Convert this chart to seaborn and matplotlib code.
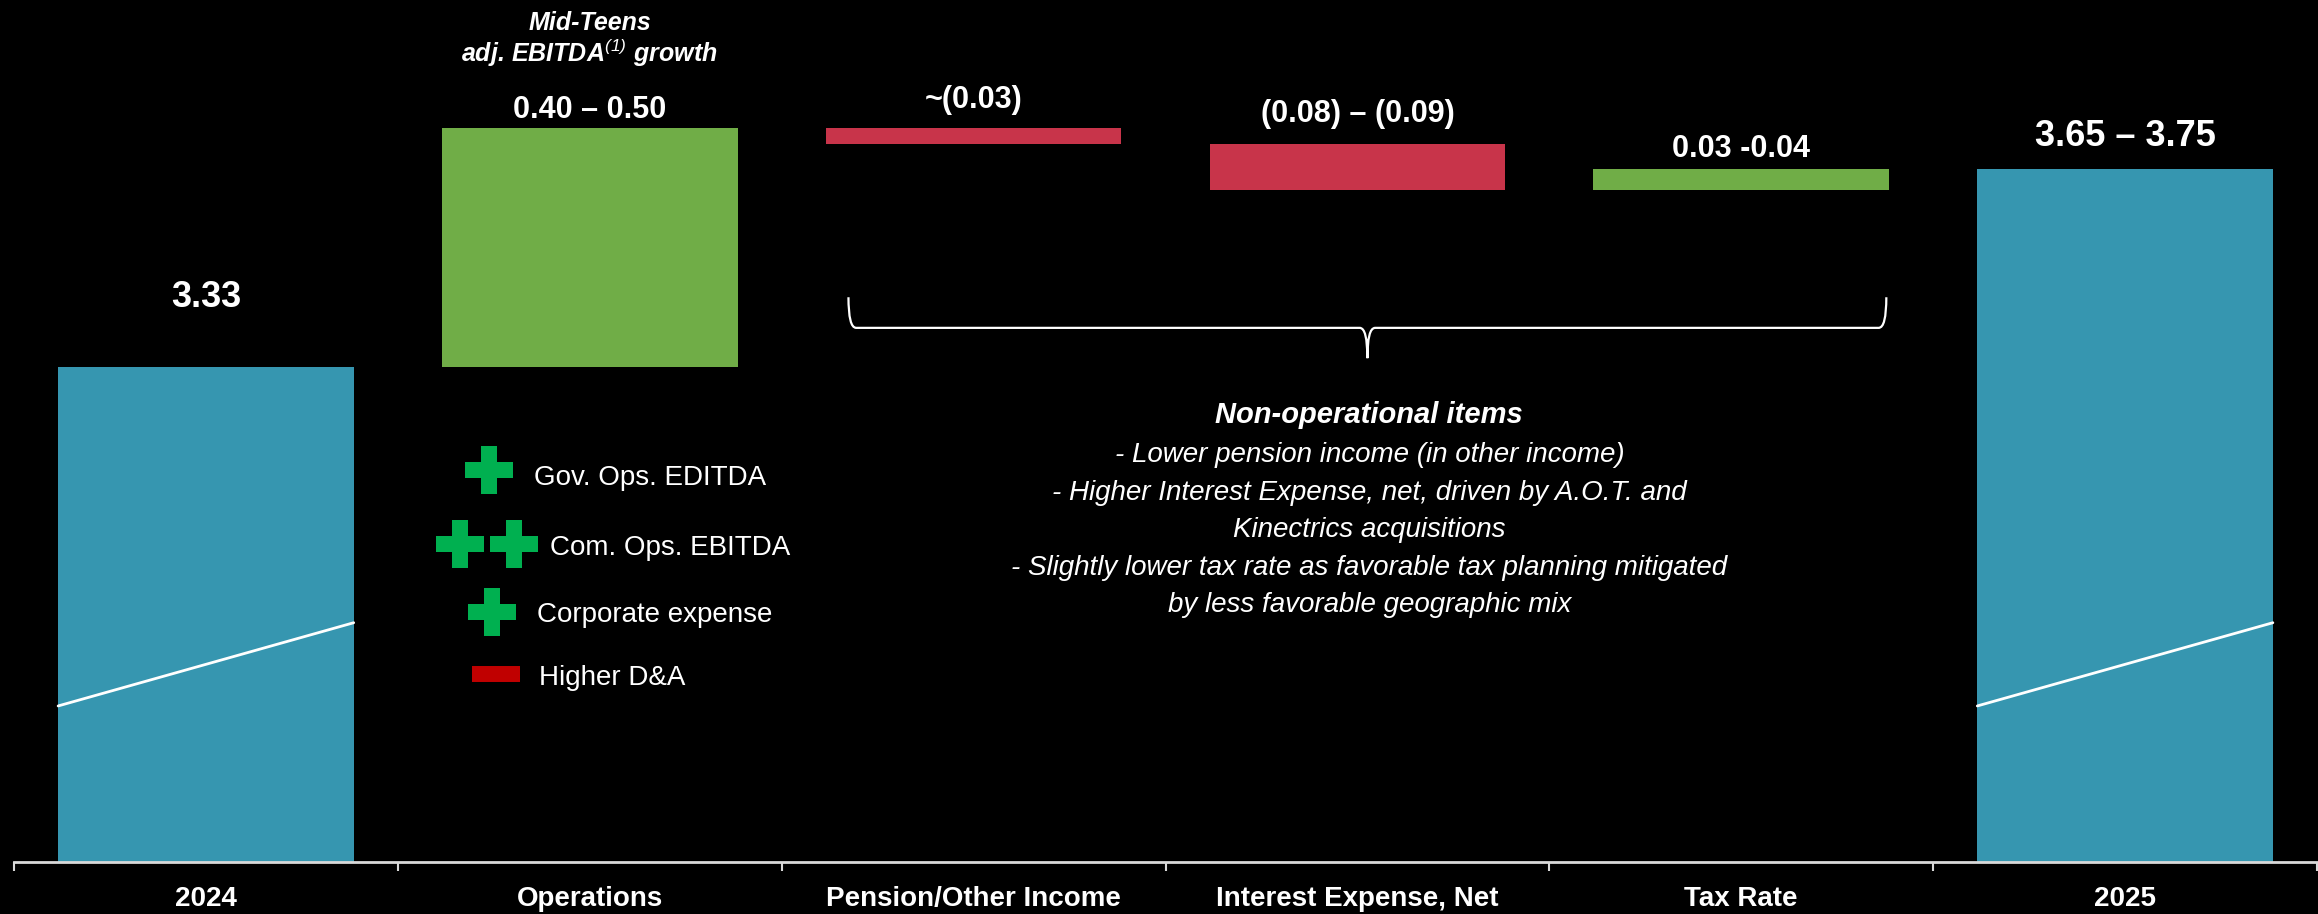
import numpy as np
import pandas as pd
import matplotlib
matplotlib.use("Agg")
import matplotlib.pyplot as plt
from matplotlib.path import Path
from matplotlib.patches import PathPatch
import seaborn as sns

# ── Data ─────────────────────────────────────
categories = ["2024", "Operations", "Pension/Other Income",
              "Interest Expense, Net", "Tax Rate", "2025"]
value_labels = ["3.33", "0.40 \u2013 0.50", "~(0.03)",
                "(0.08) \u2013 (0.09)", "0.03 -0.04", "3.65 \u2013 3.75"]
start_total = 3.33
# the bridge is not drawn to scale: step heights as drawn on the slide
drawn_steps = [1.61, -0.11, -0.31, 0.14]
break_marks = [1.05, 1.61]   # white slash across the two total bars

legend_items = ["Gov. Ops. EDITDA", "Com. Ops. EBITDA",
                "Corporate expense", "Higher D&A"]
note_title = "Non-operational items"
note_lines = ["- Lower pension income (in other income)",
              "- Higher Interest Expense, net, driven by A.O.T. and",
              "Kinectrics acquisitions",
              "- Slightly lower tax rate as favorable tax planning mitigated",
              "by less favorable geographic mix"]

# ── Styling ──────────────────────────────────
TEAL = "#3696b0"
GREEN = "#70ad47"
RED = "#c8344a"
PLUS_GREEN = "#00b050"
DA_RED = "#c00000"
AXIS_GREY = "#d9d9d9"

sns.set_theme(style="dark", rc={"axes.facecolor": "black",
                                "figure.facecolor": "black",
                                "savefig.facecolor": "black"})
plt.rcParams["font.family"] = ["Liberation Sans", "DejaVu Sans"]
plt.rcParams["mathtext.fontset"] = "custom"
plt.rcParams["mathtext.rm"] = "Liberation Sans:italic"
plt.rcParams["mathtext.it"] = "Liberation Sans:italic"

# ── Waterfall geometry from the data ─────────
levels = np.concatenate([[start_total], start_total + np.cumsum(drawn_steps)])
bases = [0.0] + [min(levels[i], levels[i + 1]) for i in range(len(drawn_steps))] + [0.0]
heights = [start_total] + [abs(s) for s in drawn_steps] + [levels[-1]]
bar_colors = [TEAL] + [GREEN if s > 0 else RED for s in drawn_steps] + [TEAL]
df = pd.DataFrame({"category": categories, "base": bases, "height": heights})

fig = plt.figure(figsize=(23.18, 9.14), dpi=100)
ax = fig.add_axes([14 / 2318, 52 / 914, 2303 / 2318, 862 / 914])

sns.barplot(data=df, x="category", y="height", order=categories,
            bottom=df["base"].values, color=TEAL, saturation=1,
            width=0.77, errorbar=None, linewidth=0, ax=ax)
for patch, c in zip(ax.patches, bar_colors):
    patch.set_facecolor(c)
    patch.set_edgecolor(c)

ax.set_xlim(-0.5, len(categories) - 0.5)
ax.set_ylim(0, 5.80)

# white break slash on the total bars
half = 0.77 / 2
for i in (0, len(categories) - 1):
    ax.plot([i - half, i + half], break_marks, color="white", lw=2, zorder=3)

# value labels above the bars (gap in points)
label_gap = [43, 7, 14, 16, 9, 17]
label_size = [26, 22, 22, 22, 22, 26]
tops = np.array(bases) + np.array(heights)
for i, (lab, top) in enumerate(zip(value_labels, tops)):
    ax.annotate(lab, (i, top), xytext=(0, label_gap[i]), textcoords="offset points",
                ha="center", va="baseline", color="white",
                fontsize=label_size[i], fontweight="bold")

ax.text(1.0, 5.60, "Mid-Teens", ha="center", va="baseline", color="white",
        fontsize=18, fontweight="bold", style="italic")
ax.text(1.0, 5.38, r"adj. EBITDA$^{(1)}$ growth", ha="center", va="baseline",
        color="white", fontsize=18, fontweight="bold", style="italic")

# ── Axis: ticks at boundaries, labels at centres ──
ax.set_xticks(np.arange(-0.5, len(categories)), labels=[""] * (len(categories) + 1))
ax.set_xticks(np.arange(len(categories)), labels=categories, minor=True)
ax.tick_params(axis="x", which="major", direction="out", length=6.5, width=1.5,
               color=AXIS_GREY, bottom=True)
ax.tick_params(axis="x", which="minor", length=0, pad=17, labelsize=20,
               labelcolor="white")
for t in ax.get_xticklabels(minor=True):
    t.set_fontweight("bold")
ax.set_yticks([])
ax.set_xlabel("")
ax.set_ylabel("")
ax.grid(False)
for side in ["left", "right", "top"]:
    ax.spines[side].set_visible(False)
ax.spines["bottom"].set_color(AXIS_GREY)
ax.spines["bottom"].set_linewidth(2)

# ── Operations drivers key ───────────────────
plus_pts = [(0.737, 2.638), (0.661, 2.140), (0.802, 2.140), (0.745, 1.682)]
for px, py in plus_pts:
    ax.plot(px, py, marker="P", markersize=35, color=PLUS_GREEN,
            markeredgewidth=0, zorder=4)
ax.plot([0.693, 0.818], [1.265, 1.265], color=DA_RED, lw=11.5,
        solid_capstyle="butt", zorder=4)
key_pos = [(0.854, 2.537), (0.896, 2.066), (0.862, 1.615), (0.867, 1.191)]
for (tx, ty), lab in zip(key_pos, legend_items):
    ax.text(tx, ty, lab, ha="left", va="baseline", color="white", fontsize=20)

# ── Brace over the non-operational items ─────
x0, x1, xm = 1.674, 4.378, 3.026
ytop, yh, ytip = 3.80, 3.594, 3.39
d = 0.02
verts = [(x0, ytop), (x0, yh), (x0 + d, yh), (xm - d, yh), (xm, yh), (xm, ytip),
         (xm, yh), (xm + d, yh), (x1 - d, yh), (x1, yh), (x1, ytop)]
codes = [Path.MOVETO, Path.CURVE3, Path.CURVE3, Path.LINETO, Path.CURVE3, Path.CURVE3,
         Path.CURVE3, Path.CURVE3, Path.LINETO, Path.CURVE3, Path.CURVE3]
ax.add_patch(PathPatch(Path(verts, codes), facecolor="none", edgecolor="white", lw=1.6))

ax.text(3.031, 2.954, note_title, ha="center", va="baseline", color="white",
        fontsize=21, fontweight="bold", style="italic")
for k, line in enumerate(note_lines):
    ax.text(3.031, 2.692 - 0.253 * k, line, ha="center", va="baseline",
            color="white", fontsize=20, style="italic")

fig.savefig("out.png", dpi=100, facecolor="black")
plt.close(fig)
